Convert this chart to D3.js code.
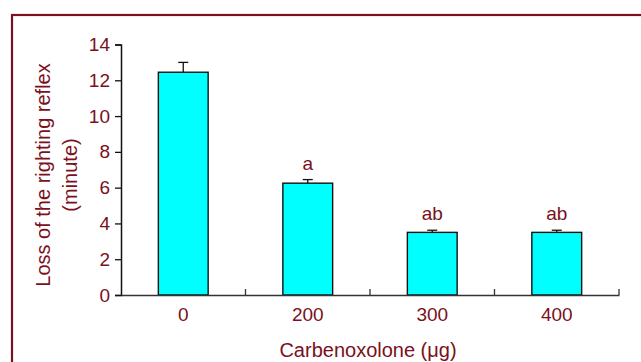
<!DOCTYPE html>
<html>
<head>
<meta charset="utf-8">
<script src="https://cdn.jsdelivr.net/npm/d3@7"></script>
<style>
html,body{margin:0;padding:0;background:#fff;}
svg{display:block;}
text{font-family:"Liberation Sans",Arial,sans-serif;fill:#7a1020;}
</style>
</head>
<body>
<svg id="chart" width="641" height="362"></svg>
<script>
const categories = ["0", "200", "300", "400"];
const means = [12.45, 6.25, 3.5, 3.5];
const errors = [0.55, 0.2, 0.12, 0.12];
const sigLabels = ["", "a", "ab", "ab"];
const yTicks = [0, 2, 4, 6, 8, 10, 12, 14];

(function () {
const svg = d3.select("#chart");
const textColor = "#7a1020";

// frame
svg.append("rect").attr("x", 12).attr("y", 15).attr("width", 700).attr("height", 400)
  .attr("fill", "none").attr("stroke", "#7a1020").attr("stroke-width", 2.2);

const pLeft = 121, pRight = 619, pTop = 44.5, pBottom = 295;
const x = d3.scaleBand().domain(categories).range([pLeft, pRight]).padding(0);
const y = d3.scaleLinear().domain([0, 14]).range([pBottom, pTop]);
const barW = x.bandwidth() * 0.4;

// bars
const g = svg.append("g");
g.selectAll("rect.bar").data(categories).join("rect")
  .attr("class", "bar")
  .attr("x", (d) => x(d) + x.bandwidth() / 2 - barW / 2)
  .attr("y", (d, i) => y(means[i]))
  .attr("width", barW)
  .attr("height", (d, i) => y(0) - y(means[i]))
  .attr("fill", "#00ffff").attr("stroke", "#111").attr("stroke-width", 1.4);

// error bars
const capW = 10;
categories.forEach((d, i) => {
  const cx = x(d) + x.bandwidth() / 2;
  g.append("line").attr("x1", cx).attr("x2", cx)
    .attr("y1", y(means[i])).attr("y2", y(means[i] + errors[i]))
    .attr("stroke", "#111").attr("stroke-width", 1.3);
  g.append("line").attr("x1", cx - capW / 2).attr("x2", cx + capW / 2)
    .attr("y1", y(means[i] + errors[i])).attr("y2", y(means[i] + errors[i]))
    .attr("stroke", "#111").attr("stroke-width", 1.3);
  if (sigLabels[i]) {
    g.append("text").attr("x", cx).attr("y", y(means[i] + errors[i]) - 10)
      .attr("text-anchor", "middle").attr("font-size", 19).text(sigLabels[i]);
  }
});

// y axis
const yAxis = d3.axisLeft(y).tickValues(yTicks).tickSize(6).tickPadding(5);
const ya = svg.append("g").attr("transform", `translate(${pLeft},0)`).call(yAxis);
ya.select(".domain").attr("stroke", "#111").attr("stroke-width", 1.5);
ya.selectAll(".tick line").attr("stroke", "#111").attr("stroke-width", 1.3);
ya.selectAll(".tick text").attr("font-size", 19).attr("fill", textColor)
  .attr("font-family", "'Liberation Sans',Arial,sans-serif");

// x axis: ticks at band boundaries
const xAxis = d3.axisBottom(x).tickSize(0).tickPadding(13);
const xa = svg.append("g").attr("transform", `translate(0,${pBottom})`).call(xAxis);
xa.select(".domain").attr("stroke", "#333").attr("stroke-width", 1.5);
xa.selectAll(".tick text").attr("font-size", 19).attr("fill", textColor)
  .attr("font-family", "'Liberation Sans',Arial,sans-serif");
const boundaries = categories.slice(1).map(c => x(c)).concat([pRight]);
svg.selectAll("line.xb").data(boundaries).join("line").attr("class", "xb")
  .attr("x1", d => d).attr("x2", d => d).attr("y1", pBottom).attr("y2", pBottom - 6)
  .attr("stroke", "#333").attr("stroke-width", 1.3);

// axis titles
svg.append("text").attr("x", (pLeft + pRight) / 2 - 2).attr("y", 357)
  .attr("text-anchor", "middle").attr("font-size", 20).text("Carbenoxolone (μg)");
const yt = svg.append("text").attr("transform", "translate(50,175) rotate(-90)")
  .attr("text-anchor", "middle").attr("font-size", 20);
yt.append("tspan").attr("x", 0).attr("dy", 0).text("Loss of the righting reflex");
yt.append("tspan").attr("x", 0).attr("dy", 27).text("(minute)");
})();
</script>
</body>
</html>
